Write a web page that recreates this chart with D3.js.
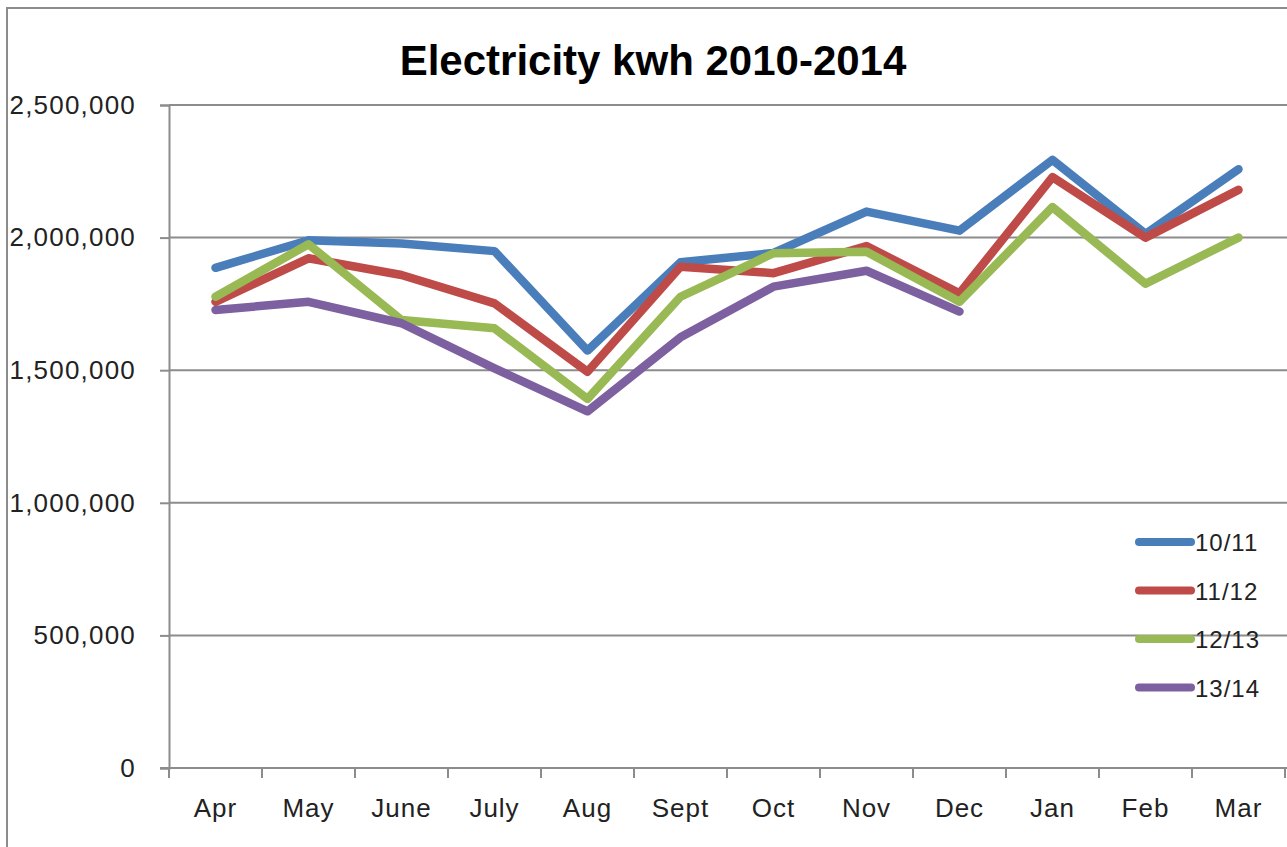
<!DOCTYPE html>
<html>
<head>
<meta charset="utf-8">
<script src="https://cdn.jsdelivr.net/npm/d3@7"></script>
<style>
  body { margin: 0; background: #fff; }
  svg { display: block; }
</style>
</head>
<body>
<div id="chart"></div>
<script>
// data
const months = ["Apr", "May", "June", "July", "Aug", "Sept", "Oct", "Nov", "Dec", "Jan", "Feb", "Mar"];
const seriesNames = ["10/11", "11/12", "12/13", "13/14"];
const colors = ["#4a7ebb", "#be4b48", "#98b954", "#7d60a0"];
const kwh1011 = [1886000, 1990000, 1978000, 1949000, 1574000, 1907000, 1942000, 2098000, 2026000, 2293000, 2014000, 2258000];
const kwh1112 = [1758000, 1922000, 1859000, 1752000, 1494000, 1890000, 1866000, 1968000, 1790000, 2228000, 2000000, 2180000];
const kwh1213 = [1777000, 1975000, 1689000, 1658000, 1392000, 1777000, 1941000, 1947000, 1758000, 2115000, 1826000, 2000000];
const kwh1314 = [1727000, 1758000, 1677000, 1507000, 1345000, 1624000, 1815000, 1875000, 1721000, null, null, null];
const yTicks = [0, 500000, 1000000, 1500000, 2000000, 2500000];

const allSeries = [kwh1011, kwh1112, kwh1213, kwh1314];

var svgWidth = 1287;
var svgHeight = 847;

var margin = { top: 105, right: 2, bottom: 79, left: 169 };
var width = svgWidth - margin.left - margin.right;
var height = svgHeight - margin.top - margin.bottom;

var labelFont = "'Liberation Sans', Arial, sans-serif";

var svg = d3.select("#chart")
  .append("svg")
  .attr("width", svgWidth)
  .attr("height", svgHeight);

// outer chart border
svg.append("rect")
  .attr("x", 7).attr("y", 8)
  .attr("width", svgWidth + 10).attr("height", svgHeight + 10)
  .attr("fill", "#fff")
  .attr("stroke", "#8c8c8c")
  .attr("stroke-width", 2);

// title
svg.append("text")
  .attr("x", 653)
  .attr("y", 75)
  .attr("text-anchor", "middle")
  .attr("font-family", labelFont)
  .attr("font-weight", "bold")
  .attr("font-size", "42px")
  .attr("fill", "#000")
  .text("Electricity kwh 2010-2014");

var chartGroup = svg.append("g")
  .attr("transform", `translate(${margin.left}, ${margin.top})`);

// scales
var xScale = d3.scaleBand()
  .domain(months)
  .range([0, width]);

var yScale = d3.scaleLinear()
  .domain([0, 2500000])
  .range([height, 0]);

var xMid = m => xScale(m) + xScale.bandwidth() / 2;

// gridlines
chartGroup.append("g")
  .selectAll("line")
  .data(yTicks.filter(d => d > 0))
  .enter()
  .append("line")
  .attr("x1", 0)
  .attr("x2", width + 5)
  .attr("y1", d => yScale(d))
  .attr("y2", d => yScale(d))
  .attr("stroke", "#8c8c8c")
  .attr("stroke-width", 2);

// y axis
var yAxis = d3.axisLeft(yScale)
  .tickValues(yTicks)
  .tickFormat(d3.format(","))
  .tickSize(9)
  .tickPadding(24);

var yG = chartGroup.append("g").call(yAxis);
yG.select(".domain").attr("stroke", "#8c8c8c").attr("stroke-width", 2);
yG.selectAll(".tick line").attr("stroke", "#8c8c8c").attr("stroke-width", 2);
yG.selectAll(".tick text")
  .attr("font-family", labelFont)
  .attr("font-size", "26px")
  .attr("letter-spacing", "1.2px")
  .attr("fill", "#222");

// x axis line and tick marks between categories
chartGroup.append("line")
  .attr("x1", -9).attr("x2", width + 5)
  .attr("y1", height).attr("y2", height)
  .attr("stroke", "#8c8c8c")
  .attr("stroke-width", 2);

chartGroup.append("g")
  .selectAll("line")
  .data(months.map(m => xScale(m)).concat([width]))
  .enter()
  .append("line")
  .attr("x1", d => d).attr("x2", d => d)
  .attr("y1", height).attr("y2", height + 10)
  .attr("stroke", "#8c8c8c")
  .attr("stroke-width", 2);

// x labels
chartGroup.append("g")
  .selectAll("text")
  .data(months)
  .enter()
  .append("text")
  .attr("x", d => xMid(d))
  .attr("y", height + 49)
  .attr("text-anchor", "middle")
  .attr("font-family", labelFont)
  .attr("font-size", "26px")
  .attr("letter-spacing", "1px")
  .attr("fill", "#222")
  .text(d => d);

// lines
var line = d3.line()
  .defined(d => d.v != null)
  .x(d => xMid(d.m))
  .y(d => yScale(d.v));

allSeries.forEach((vals, i) => {
  chartGroup.append("path")
    .datum(months.map((m, j) => ({ m: m, v: vals[j] })))
    .attr("d", line)
    .attr("fill", "none")
    .attr("stroke", colors[i])
    .attr("stroke-width", 8.5)
    .attr("stroke-linejoin", "round")
    .attr("stroke-linecap", "round");
});

// legend
var legend = svg.append("g")
  .attr("transform", "translate(1139, 542)");

var items = legend.selectAll("g")
  .data(seriesNames)
  .enter()
  .append("g")
  .attr("transform", (d, i) => `translate(0, ${i * 48.5})`);

items.append("line")
  .attr("x1", 0).attr("x2", 52)
  .attr("y1", 0).attr("y2", 0)
  .attr("stroke", (d, i) => colors[i])
  .attr("stroke-width", 8)
  .attr("stroke-linecap", "round");

items.append("text")
  .attr("x", 56)
  .attr("y", 9)
  .attr("font-family", labelFont)
  .attr("font-size", "24px")
  .attr("letter-spacing", "1px")
  .attr("fill", "#222")
  .text(d => d);
</script>
</body>
</html>
